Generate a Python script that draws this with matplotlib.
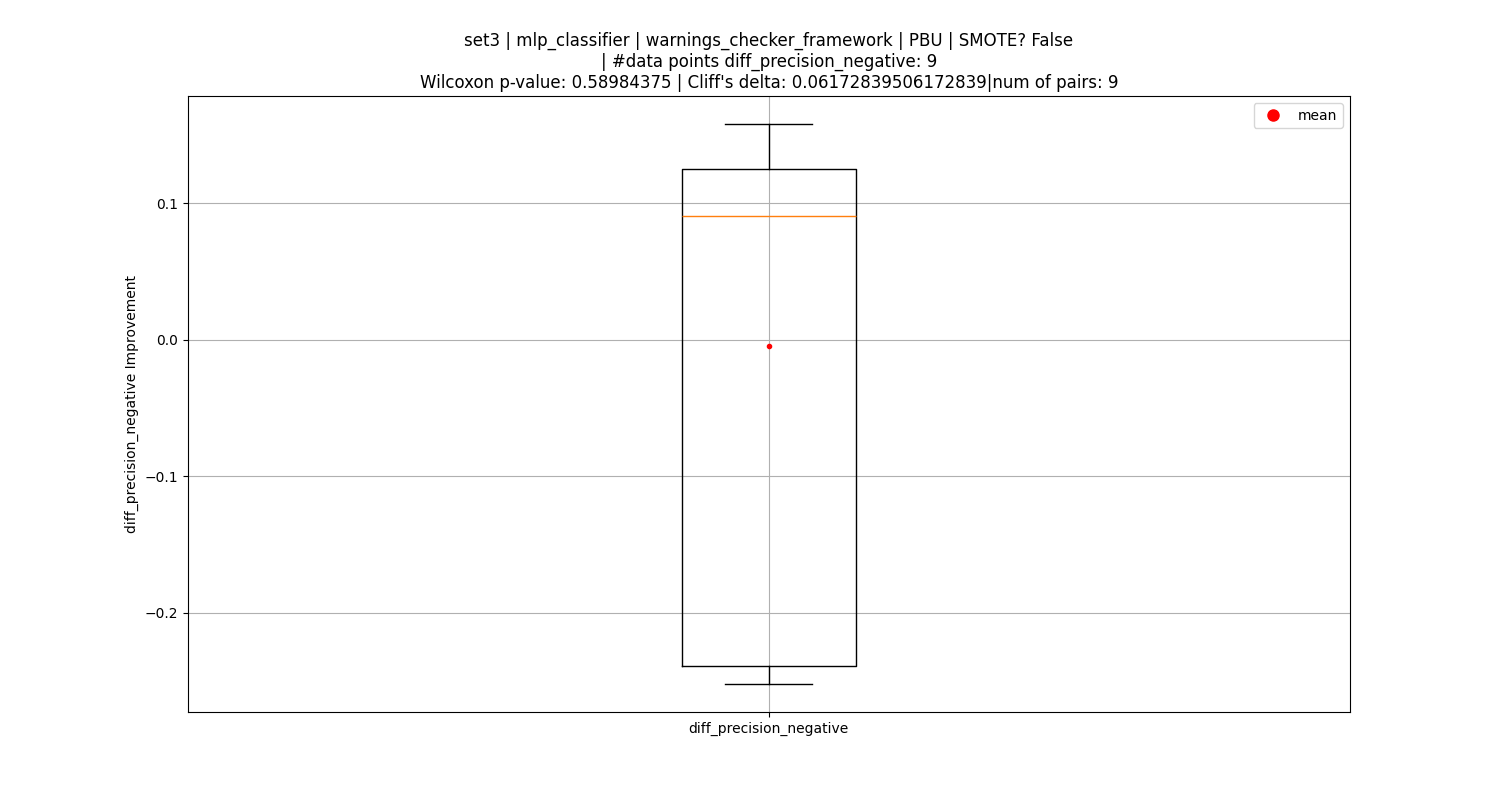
import matplotlib
matplotlib.use("Agg")
import matplotlib.pyplot as plt
import numpy as np
from matplotlib.lines import Line2D

metric = "diff_precision_negative"
values = [-0.252, -0.245, -0.2385, 0.0818, 0.0907, 0.100, 0.125, 0.140, 0.158]
title = ("set3 | mlp_classifier | warnings_checker_framework | PBU | SMOTE? False\n"
         "| #data points diff_precision_negative: 9\n"
         "Wilcoxon p-value: 0.58984375 | Cliff's delta: 0.06172839506172839|num of pairs: 9")

fig, ax = plt.subplots(figsize=(15, 8), dpi=100)
ax.boxplot([values], tick_labels=[metric])
mean = np.mean(values)
ax.plot([1], [mean], 'r.')
ax.grid(True)
ax.set_ylabel(f"{metric} Improvement")
ax.set_title(title, fontsize=12)
handle = Line2D([], [], color='red', marker='o', linestyle='None', markersize=8, label='mean')
ax.legend(handles=[handle], loc='upper right')
fig.savefig("out.png")
